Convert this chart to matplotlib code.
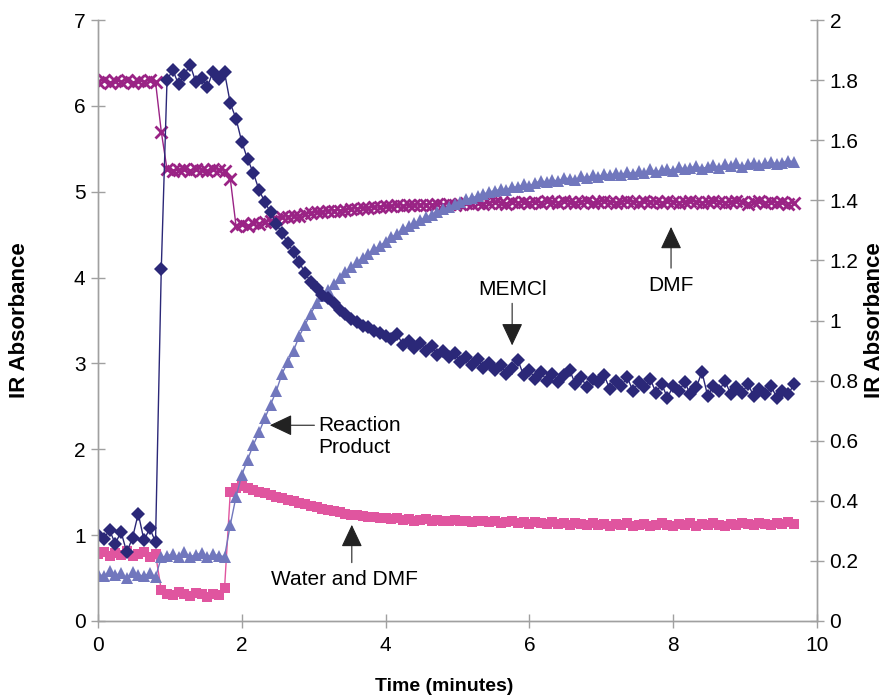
import numpy as np
import matplotlib
matplotlib.use("Agg")
import matplotlib.pyplot as plt

plt.rcParams['font.family'] = ['Liberation Sans', 'DejaVu Sans']

# time axis (minutes), sampled every 0.08 min
time_min = np.round(np.arange(122) * 0.08, 2)

memcl = [1.00, 0.96, 1.06, 0.90, 1.04, 0.80, 0.97, 1.25, 0.94, 1.08, 0.92,
         4.10,
         6.30, 6.42, 6.25, 6.36, 6.48, 6.28, 6.33, 6.22, 6.40, 6.31, 6.39,
         6.03, 5.85, 5.58, 5.38, 5.22, 5.02, 4.88, 4.76, 4.62, 4.52, 4.40,
         4.30, 4.18, 4.05, 3.95, 3.88, 3.80, 3.76, 3.70, 3.62, 3.58, 3.52,
         3.48, 3.44, 3.42, 3.38, 3.36, 3.32,
         3.28, 3.34, 3.22, 3.26, 3.18, 3.24, 3.15, 3.20, 3.10, 3.14, 3.08,
         3.12, 3.02, 3.07, 2.98, 3.05, 2.95, 3.00, 2.92, 2.98, 2.88, 2.95,
         3.04, 2.86, 2.92, 2.82, 2.90, 2.80, 2.88, 2.78, 2.86, 2.92, 2.76,
         2.84, 2.72, 2.82, 2.78, 2.86, 2.70, 2.80, 2.74, 2.84, 2.68, 2.78,
         2.72, 2.82, 2.66, 2.76, 2.60, 2.74, 2.68, 2.78, 2.64, 2.72, 2.90,
         2.62, 2.74, 2.68, 2.80, 2.64, 2.72, 2.66, 2.76, 2.62, 2.70, 2.64,
         2.74, 2.60, 2.68, 2.64, 2.76]

dmf = [6.28, 6.30, 6.27, 6.29, 6.28, 6.30, 6.27, 6.29, 6.28, 6.30, 6.28,
       5.70,
       5.26, 5.24, 5.25, 5.27, 5.24, 5.26, 5.25, 5.24, 5.26, 5.25, 5.24,
       5.15,
       4.60, 4.62, 4.60, 4.63, 4.62, 4.65, 4.66, 4.68, 4.70, 4.71, 4.72,
       4.72, 4.74, 4.75, 4.76, 4.76, 4.77, 4.78, 4.78, 4.79, 4.80, 4.80,
       4.81, 4.81, 4.82, 4.82, 4.83,
       4.83, 4.84, 4.83, 4.84, 4.85, 4.84, 4.85, 4.85, 4.86, 4.85, 4.86,
       4.85, 4.86, 4.87, 4.86, 4.87, 4.86, 4.87, 4.88, 4.87, 4.86, 4.88,
       4.87, 4.88, 4.87,
       4.88, 4.87, 4.89, 4.88, 4.87, 4.89, 4.88, 4.87, 4.88, 4.89, 4.87,
       4.88, 4.89, 4.88, 4.87, 4.88, 4.89, 4.88, 4.87, 4.89, 4.88, 4.88,
       4.87, 4.89, 4.88, 4.87, 4.88, 4.89, 4.88, 4.87, 4.88, 4.89, 4.88,
       4.87, 4.88, 4.89, 4.88, 4.86, 4.88, 4.89, 4.87, 4.88, 4.87, 4.88,
       4.86, 4.87]

reaction_product = [0.55, 0.52, 0.58, 0.53, 0.56, 0.50, 0.57, 0.54, 0.52, 0.56, 0.51,
                    0.74,
                    0.76, 0.78, 0.74, 0.80, 0.75, 0.77, 0.79, 0.74, 0.78, 0.76, 0.75,
                    1.12, 1.45, 1.70, 1.88, 2.05, 2.20, 2.36, 2.52, 2.68, 2.88, 3.02,
                    3.15, 3.32, 3.45, 3.58, 3.70, 3.78, 3.86, 3.93, 4.00, 4.06, 4.12,
                    4.18, 4.23, 4.28, 4.33, 4.37, 4.42,
                    4.47, 4.51, 4.56, 4.60, 4.63, 4.67, 4.70, 4.73, 4.76, 4.80, 4.82,
                    4.86, 4.88, 4.91, 4.93, 4.95, 4.97, 5.00, 5.01, 5.03,
                    5.02, 5.06, 5.05, 5.09, 5.07, 5.10, 5.13, 5.11, 5.14, 5.12, 5.16,
                    5.15, 5.14, 5.18, 5.16, 5.19, 5.17, 5.21, 5.19, 5.22, 5.20, 5.23,
                    5.21, 5.24, 5.22, 5.26, 5.23, 5.25, 5.27, 5.24, 5.29, 5.26, 5.28,
                    5.30, 5.27, 5.29, 5.31, 5.28, 5.32, 5.30, 5.33, 5.29, 5.32, 5.34,
                    5.31, 5.33, 5.35, 5.32, 5.34, 5.36, 5.35]

water_dmf = [0.78, 0.80, 0.76, 0.79, 0.77, 0.81, 0.76, 0.78, 0.80, 0.75, 0.78,
             0.36,
             0.32, 0.30, 0.34, 0.31, 0.29, 0.33, 0.31, 0.28, 0.32, 0.30, 0.38,
             1.50, 1.55, 1.57, 1.55, 1.53, 1.50, 1.49, 1.47, 1.45, 1.43, 1.41,
             1.40, 1.38, 1.36, 1.34, 1.33, 1.31, 1.29, 1.28, 1.27, 1.25, 1.24,
             1.23, 1.22, 1.21, 1.21, 1.20, 1.20,
             1.19, 1.20, 1.18, 1.19, 1.17, 1.18, 1.19, 1.17, 1.18, 1.16, 1.17,
             1.18, 1.16, 1.17, 1.15, 1.16, 1.17, 1.15, 1.16, 1.14, 1.15, 1.16,
             1.14, 1.15, 1.13, 1.15, 1.14, 1.13, 1.15, 1.13, 1.14, 1.12, 1.14,
             1.13, 1.12, 1.14, 1.12, 1.13, 1.11, 1.13, 1.12, 1.14, 1.11, 1.12,
             1.13, 1.11, 1.12, 1.14, 1.12, 1.11, 1.13, 1.12, 1.14, 1.11, 1.13,
             1.12, 1.14, 1.12, 1.11, 1.13, 1.12, 1.14, 1.13, 1.12, 1.14, 1.13,
             1.12, 1.14, 1.13, 1.15, 1.13]

left_ticks = [0, 1, 2, 3, 4, 5, 6, 7]
right_ticks = [0, 0.2, 0.4, 0.6, 0.8, 1.0, 1.2, 1.4, 1.6, 1.8, 2.0]
right_labels = ["0", "0.2", "0.4", "0.6", "0.8", "1", "1.2", "1.4", "1.6", "1.8", "2"]
x_ticks = [0, 2, 4, 6, 8, 10]

c_memcl = '#2B2878'
c_dmf = '#9A2385'
c_rp = '#7177BD'
c_water = '#E0559F'
spine_c = '#A0A0A0'

fig = plt.figure(figsize=(8.89, 7.0), dpi=100)
ax = fig.add_axes([98/889, 1 - 621/700, (817-98)/889, (621-20)/700])

ax.plot(time_min, water_dmf, color=c_water, marker='s', markersize=7.5, lw=1.0,
        markeredgewidth=0, zorder=2)
ax.plot(time_min, dmf, color=c_dmf, marker='x', markersize=8, lw=1.0,
        markeredgewidth=2.0, zorder=3)
ax.plot(time_min, reaction_product, color=c_rp, marker='^', markersize=8.5, lw=1.0,
        markeredgewidth=0, zorder=4)
ax.plot(time_min, memcl, color=c_memcl, marker='D', markersize=7.5, lw=1.0,
        markeredgewidth=0, zorder=5)

ax.set_xlim(0, 10)
ax.set_ylim(0, 7)
ax.set_xticks(x_ticks)
ax.set_yticks(left_ticks)

ax2 = ax.twinx()
ax2.set_ylim(0, 2)
ax2.set_yticks(right_ticks)
ax2.set_yticklabels(right_labels)

for a in (ax, ax2):
    a.spines['top'].set_visible(False)
    for s in ('left', 'right', 'bottom'):
        a.spines[s].set_color(spine_c)
        a.spines[s].set_linewidth(1.0)
    a.tick_params(direction='inout', length=10, width=1.0, color=spine_c,
                  labelsize=15, pad=4)
ax.tick_params(axis='x', pad=6)

ax.set_xlabel('Time (minutes)', fontsize=14, fontweight='bold')
ax.xaxis.set_label_coords((444 - 98) / 719, -(678 - 621) / 601)
ax.set_ylabel('IR Absorbance', fontsize=16, fontweight='bold')
ax.yaxis.set_label_coords(-(98 - 30) / 719, 0.5)
ax2.set_ylabel('IR Absorbance', fontsize=16, fontweight='bold')
ax2.yaxis.set_label_coords(1 + (864 - 817) / 719, 0.5)

arrow_kw = dict(arrowstyle='-|>,head_length=0.7,head_width=0.33',
                mutation_scale=20, lw=0.8, color='#222222', shrinkA=0, shrinkB=0)

ax.annotate('', xy=(5.76, 3.21), xytext=(5.76, 3.70), arrowprops=arrow_kw)
ax.text(5.76, 3.86, 'MEMCl', ha='center', va='center', fontsize=15)

ax.annotate('', xy=(7.97, 4.59), xytext=(7.97, 4.11), arrowprops=arrow_kw)
ax.text(7.97, 3.91, 'DMF', ha='center', va='center', fontsize=15)

ax.annotate('', xy=(2.39, 2.28), xytext=(3.01, 2.28), arrowprops=arrow_kw)
ax.text(3.06, 2.15, 'Reaction\nProduct', ha='left', va='center', fontsize=15,
        linespacing=1.25)

ax.annotate('', xy=(3.53, 1.12), xytext=(3.53, 0.68), arrowprops=arrow_kw)
ax.text(3.43, 0.48, 'Water and DMF', ha='center', va='center', fontsize=15)

fig.savefig('out.png', dpi=100)
